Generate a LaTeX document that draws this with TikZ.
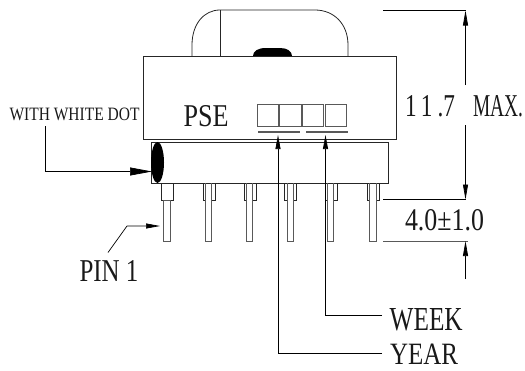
\documentclass[tikz,border=0pt]{standalone}
\usepackage{fontspec}
\usepackage{graphicx}
\setmainfont{Liberation Serif}
\usetikzlibrary{arrows.meta}
\tikzset{
  part/.style={draw=black!85,line width=0.8pt,line join=miter},
  thin part/.style={draw=black!65,line width=0.8pt},
  leader/.style={draw=black,line width=0.7pt},
  big head/.style={-{Triangle[length=22pt,width=8pt]}},
  mid head/.style={-{Triangle[length=14pt,width=5pt]}},
  dim head/.style={-{Triangle[length=15pt,width=5pt]}},
  lab/.style={anchor=base west,inner sep=0pt,outer sep=0pt,text=black!90},
}
\newcommand{\fit}[3]{\resizebox{#1pt}{#2pt}{#3}}
\begin{document}
\begin{tikzpicture}[x=1pt,y=-1pt]
\useasboundingbox (0,0) rectangle (525,370);
% winding cover
\draw[part] (192,56) -- (192,45) .. controls (192,24) and (204,10) .. (220,10) -- (315,10)
  .. controls (334,10) and (348,24) .. (348,45) -- (348,56);
\draw[part] (220,10) -- (220,56);
\fill[black] (253,56) .. controls (253,51) and (258,48) .. (266,48) -- (280,48)
  .. controls (287,48) and (292,51) .. (292,56) -- cycle;
% body and bobbin
\draw[part] (143.5,56) rectangle (396.5,139);
\draw[part] (151,142) rectangle (388.5,183);
\fill[black] (157.5,162.5) ellipse [x radius=6.5,y radius=20.5];
% date boxes
\draw[thin part] (257,104) rectangle (278,126);
\draw[thin part] (279.5,104) rectangle (301,126);
\draw[thin part] (302.5,104) rectangle (323.5,126);
\draw[thin part] (325.5,104) rectangle (346.5,126);
\draw[thin part,line width=1.2pt] (258,132) -- (299.5,132);
\draw[thin part,line width=1.2pt] (306,132) -- (348,132);
% pins
\draw[part] (161,183) rectangle (173,200);
\draw[thin part] (163.5,200) rectangle (170.5,241);
\foreach \cl/\cr/\pl/\pr in {203/215/205.5/211.5,244/256/246.5/252.5,284.5/296/287/293,325/337/327.5/333.5,367.5/379.5/369.5/376.5}{
  \draw[part] (\cl,183) -- (\cl,200) -- (\cr,200) -- (\cr,183);
  \fill[white] (\pl,183.5) rectangle (\pr,241);
  \draw[thin part] (\pl,183) -- (\pl,241) -- (\pr,241) -- (\pr,183);
}
% named ends
\coordinate (dotstart) at (45,126);
\coordinate (dotbend) at (45,171.5);
\coordinate (dottip) at (152,171.5);
\coordinate (pinstart) at (108,252.5);
\coordinate (pinbend) at (127,226);
\coordinate (pintip) at (160,226);
\coordinate (yearend) at (382,353);
\coordinate (yearbend) at (278,353);
\coordinate (yeartip) at (278,135);
\coordinate (weekend) at (382,315);
\coordinate (weekbend) at (325.5,315);
\coordinate (weektip) at (325.5,135);
\coordinate (topa) at (383,10.5);
\coordinate (topb) at (466,10.5);
\coordinate (mida) at (383,199.5);
\coordinate (midb) at (466,199.5);
\coordinate (lowa) at (383,241);
\coordinate (lowb) at (468,241);
\coordinate (dimup) at (465.5,85);
\coordinate (dimuptip) at (465.5,10.5);
\coordinate (dimdn) at (465.5,125);
\coordinate (dimdntip) at (465.5,199.5);
\coordinate (dimlow) at (465.5,279);
\coordinate (dimlowtip) at (465.5,241);
% leaders
\draw[leader,big head] (dotstart) -- (dotbend) -- (dottip);
\draw[leader,mid head] (pinstart) -- (pinbend) -- (pintip);
\draw[leader,mid head] (yearend) -- (yearbend) -- (yeartip);
\draw[leader,mid head] (weekend) -- (weekbend) -- (weektip);
% dimensions
\draw[leader] (topa) -- (topb);
\draw[leader] (mida) -- (midb);
\draw[thin part] (lowa) -- (lowb);
\draw[leader,dim head] (dimup) -- (dimuptip);
\draw[leader,dim head] (dimdn) -- (dimdntip);
\draw[leader,dim head] (dimlow) -- (dimlowtip);
% labels
\node[lab] (dotlabel) at (9.5,120) {\fit{130}{12.5}{WITH WHITE DOT}};
\node[lab] (pselabel) at (183.5,126) {\fit{45}{21}{PSE}};
\node[lab] (maxlabel) at (405,116.5) {\fit{50}{21}{{\addfontfeature{LetterSpace=22}11.}7}\hspace{18pt}\fit{50}{21}{MAX.}};
\node[lab] (tollabel) at (405,230.7) {\fit{79}{21}{4.0±1.0}};
\node[lab] (pinlabel) at (79.5,281) {\fit{59}{21}{PIN 1}};
\node[lab] (weeklabel) at (389.7,330) {\fit{73}{22}{WEEK}};
\node[lab] (yearlabel) at (390,364.5) {\fit{68}{20.5}{YEAR}};
\end{tikzpicture}
\end{document}
